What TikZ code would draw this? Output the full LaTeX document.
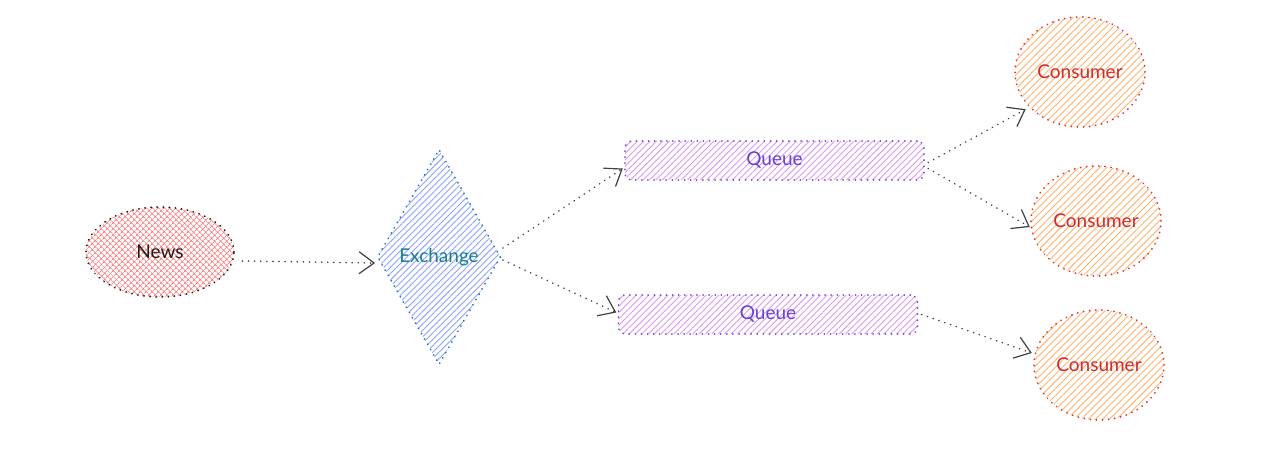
\documentclass[tikz,border=0pt]{standalone}
\usepackage{fontspec}
\setmainfont{Lato}
\usetikzlibrary{shapes.geometric,patterns.meta,arrows.meta,calc}

\definecolor{ink}{HTML}{1E1E1E}
\definecolor{newsfill}{HTML}{FF7F7F}
\definecolor{exfill}{HTML}{8FA3FB}
\definecolor{exline}{HTML}{1971C2}
\definecolor{extext}{HTML}{1A7F8E}
\definecolor{qfill}{HTML}{DE98F2}
\definecolor{qline}{HTML}{7A4BE6}
\definecolor{qtext}{HTML}{6741D9}
\definecolor{cfill}{HTML}{FFB26E}
\definecolor{cline}{HTML}{E03131}
\definecolor{ctext}{HTML}{D42A2A}

\tikzset{
  dotline/.style={line width=1.9pt, line cap=round, dash pattern=on 0.1pt off 6pt},
  outline/.style={postaction={draw=#1, dotline}},
  label font/.style={font=\fontsize{19}{22}\selectfont},
  newsbox/.style={ellipse, outline=ink, label font, text=ink,
    pattern={Hatch[angle=45,distance=4pt,line width=0.7pt]}, pattern color=newsfill,
    minimum width=148pt, minimum height=90pt},
  exbox/.style={diamond, outline=exline, label font, text=extext, inner sep=0pt,
    pattern={Lines[angle=45,distance=4.5pt,line width=0.9pt]}, pattern color=exfill,
    minimum width=123pt, minimum height=215pt},
  queuebox/.style={rectangle, rounded corners=7pt, outline=qline, label font, text=qtext,
    pattern={Lines[angle=45,distance=4.5pt,line width=0.9pt]}, pattern color=qfill,
    minimum width=299pt, minimum height=39pt},
  consbox/.style={ellipse, outline=cline, label font, text=ctext,
    pattern={Lines[angle=45,distance=5pt,line width=0.9pt]}, pattern color=cfill,
    minimum width=130pt, minimum height=110pt},
  flow/.style={draw=ink!85, line width=1.7pt, line cap=round, dash pattern=on 0.1pt off 6pt,
    -{Straight Barb[length=15pt,width=22pt,line width=1.2pt]}},
}

\begin{document}
\begin{tikzpicture}[x=1pt,y=-1pt]
  \fill[white] (0,0) rectangle (1279,454);
  \useasboundingbox (0,0) rectangle (1279,454);

  % shapes
  \node[newsbox]  (news)  at (160,252) {News};
  \node[exbox]    (exch)  at (439,257) {Exchange};
  \node[queuebox] (q1)    at (774.5,160.5) {Queue};
  \node[queuebox] (q2)    at (768,314.5) {Queue};
  \node[consbox]  (c1)    at (1080,72)  {Consumer};
  \node[consbox]  (c2)    at (1096,221) {Consumer};
  \node[consbox]  (c3)    at (1099,365) {Consumer};

  % message flow
  \draw[flow] ($(news.east)+(8,9)$) -- ($(exch.west)+(-2,6)$);
  \draw[flow] ($(exch.east)+(2,-9)$) -- ($(q1.west)+(-2,8)$);
  \draw[flow] ($(exch.east)+(2,3)$)  -- ($(q2.west)+(-2,-2)$);
  \draw[flow] ($(q1.east)+(4,2)$)    -- ($(c1.south west)+(-8,-2)$);
  \draw[flow] ($(q1.east)+(4,8)$)    -- ($(c2.west)+(-1,6)$);
  \draw[flow] ($(q2.east)+(4,0)$)    -- ($(c3.west)+(-2,-12)$);
\end{tikzpicture}
\end{document}
